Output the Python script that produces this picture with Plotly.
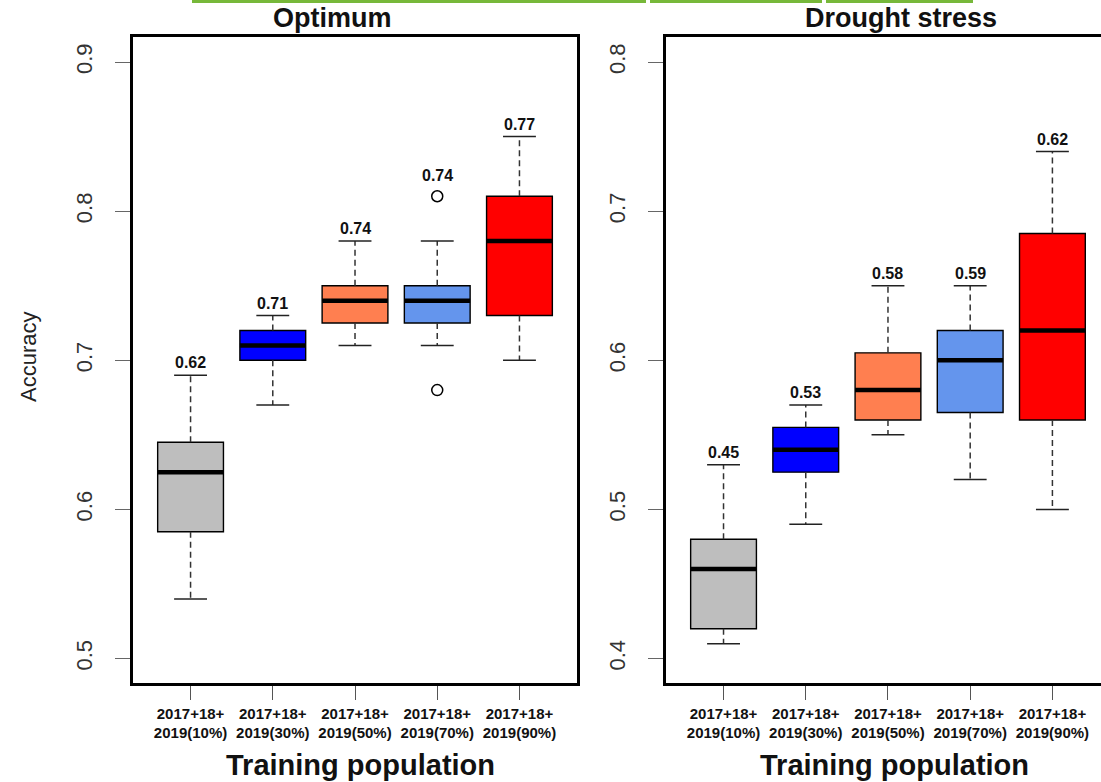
import plotly.graph_objects as go

# Training-population scenarios (shared by both panels)
categories = ["2017+18+<br>2019(10%)", "2017+18+<br>2019(30%)", "2017+18+<br>2019(50%)",
              "2017+18+<br>2019(70%)", "2017+18+<br>2019(90%)"]
positions = [1, 2, 3, 4, 5]
box_colors = ["#BEBEBE", "#0000FF", "#FF7F50", "#6495ED", "#FF0000"]

# Optimum environment: five-number summaries of prediction accuracy
opt_low = [0.540, 0.670, 0.710, 0.710, 0.700]
opt_q1 = [0.585, 0.700, 0.725, 0.725, 0.730]
opt_median = [0.625, 0.710, 0.740, 0.740, 0.780]
opt_q3 = [0.645, 0.720, 0.750, 0.750, 0.810]
opt_high = [0.690, 0.730, 0.780, 0.780, 0.850]
opt_mean = [0.62, 0.71, 0.74, 0.74, 0.77]
opt_outliers = [[], [], [], [0.81, 0.68], []]

# Drought-stress environment
dro_low = [0.410, 0.490, 0.550, 0.520, 0.500]
dro_q1 = [0.420, 0.525, 0.560, 0.565, 0.560]
dro_median = [0.460, 0.540, 0.580, 0.600, 0.620]
dro_q3 = [0.480, 0.555, 0.605, 0.620, 0.685]
dro_high = [0.530, 0.570, 0.650, 0.650, 0.740]
dro_mean = [0.45, 0.53, 0.58, 0.59, 0.62]
dro_outliers = [[], [], [], [], []]

opt_ticks = [0.5, 0.6, 0.7, 0.8, 0.9]
dro_ticks = [0.4, 0.5, 0.6, 0.7, 0.8]

FONT = "Liberation Sans, Arial, Helvetica, sans-serif"
BOX_W = 0.8
CAP_W = 0.4

fig = go.Figure()


def add_panel(xa, ya, low, q1, med, q3, high, mean, outliers):
    xref = "x" if xa == "x1" else xa
    yref = "y" if ya == "y1" else ya
    # box bodies
    for p, c, a, m, b in zip(positions, box_colors, q1, med, q3):
        fig.add_trace(go.Box(
            x=[p], q1=[a], median=[m], q3=[b], lowerfence=[a], upperfence=[b],
            width=BOX_W, whiskerwidth=0, fillcolor=c, boxpoints=False,
            line=dict(color="#000000", width=1.4),
            xaxis=xref, yaxis=yref, showlegend=False, hoverinfo="skip"))
    # dashed whiskers
    wx, wy = [], []
    for p, lo, a, b, hi in zip(positions, low, q1, q3, high):
        wx += [p, p, None, p, p, None]
        wy += [b, hi, None, a, lo, None]
    fig.add_trace(go.Scatter(x=wx, y=wy, mode="lines", xaxis=xref, yaxis=yref,
                             line=dict(color="#333333", width=1.5, dash="6px,4px"),
                             showlegend=False, hoverinfo="skip"))
    # whisker caps
    cx, cy = [], []
    for p, lo, hi in zip(positions, low, high):
        cx += [p - CAP_W / 2, p + CAP_W / 2, None, p - CAP_W / 2, p + CAP_W / 2, None]
        cy += [hi, hi, None, lo, lo, None]
    fig.add_trace(go.Scatter(x=cx, y=cy, mode="lines", xaxis=xref, yaxis=yref,
                             line=dict(color="#222222", width=1.5),
                             showlegend=False, hoverinfo="skip"))
    # thick medians
    mx, my = [], []
    for p, m in zip(positions, med):
        mx += [p - BOX_W / 2, p + BOX_W / 2, None]
        my += [m, m, None]
    fig.add_trace(go.Scatter(x=mx, y=my, mode="lines", xaxis=xref, yaxis=yref,
                             line=dict(color="#000000", width=4.5),
                             showlegend=False, hoverinfo="skip"))
    # outliers
    ox, oy = [], []
    for p, pts in zip(positions, outliers):
        for v in pts:
            ox.append(p)
            oy.append(v)
    if ox:
        fig.add_trace(go.Scatter(x=ox, y=oy, mode="markers", xaxis=xref, yaxis=yref,
                                 marker=dict(symbol="circle-open", size=11,
                                             color="#000000", line=dict(width=1.5)),
                                 showlegend=False, hoverinfo="skip"))
    # mean labels above the top of each box
    for p, hi, pts, v in zip(positions, high, outliers, mean):
        top = max([hi] + list(pts))
        shift = 10 if pts and max(pts) > hi else 2
        fig.add_annotation(x=p, y=top, xref=xref, yref=yref, text=f"{v:.2f}",
                           showarrow=False, yanchor="bottom", yshift=shift,
                           font=dict(family=FONT, size=16, color="#111111", weight="bold"))


add_panel("x1", "y1", opt_low, opt_q1, opt_median, opt_q3, opt_high, opt_mean, opt_outliers)
add_panel("x2", "y2", dro_low, dro_q1, dro_median, dro_q3, dro_high, dro_mean, dro_outliers)

xaxis_common = dict(
    tickmode="array", tickvals=positions, ticktext=categories,
    ticks="outside", ticklen=14, tickwidth=1.3, tickcolor="#555555",
    tickfont=dict(family=FONT, size=15, color="#111111", weight="bold"),
    showline=True, linecolor="#000000", linewidth=2.5, mirror=True,
    showgrid=False, zeroline=False, ticklabelstandoff=1,
)
yaxis_common = dict(
    ticks="outside", ticklen=15, tickwidth=1.3, tickcolor="#666666",
    tickangle=-90, tickfont=dict(family=FONT, size=22, color="#333333"),
    showline=True, linecolor="#000000", linewidth=2.5,
    showgrid=False, zeroline=False, ticklabelstandoff=14,
)

fig.update_layout(
    width=1101, height=782,
    margin=dict(l=133, r=0, t=37, b=99),
    paper_bgcolor="#FFFFFF", plot_bgcolor="#FFFFFF",
    boxmode="overlay",
    font=dict(family=FONT),
    xaxis=dict(domain=[0, 0.4587], range=[0.3, 5.7], **xaxis_common),
    xaxis2=dict(domain=[0.5506, 1.0], range=[0.3, 5.591], anchor="y2", **xaxis_common),
    yaxis=dict(range=[0.4836, 0.9168], tickvals=opt_ticks,
               ticktext=[f"{t:.1f}" for t in opt_ticks], mirror=True, **yaxis_common),
    yaxis2=dict(range=[0.3836, 0.8168], tickvals=dro_ticks, anchor="x2",
                ticktext=[f"{t:.1f}" for t in dro_ticks], mirror=False, **yaxis_common),
)

# panel titles and axis titles
for txt, xp in [("Optimum", 0.2066), ("Drought stress", 0.7934)]:
    fig.add_annotation(x=xp, y=1.0294, xref="paper", yref="paper", text=txt,
                       showarrow=False, xanchor="center", yanchor="middle",
                       font=dict(family=FONT, size=27, color="#111111", weight="bold"))
for xp in [0.2355, 0.7862]:
    fig.add_annotation(x=xp, y=-0.127, xref="paper", yref="paper", text="Training population",
                       showarrow=False, xanchor="center", yanchor="middle",
                       font=dict(family=FONT, size=29, color="#111111", weight="bold"))
fig.add_annotation(x=-0.1085, y=0.5046, xref="paper", yref="paper", text="Accuracy",
                   textangle=-90, showarrow=False, xanchor="center", yanchor="middle",
                   font=dict(family=FONT, size=22, color="#222222"))

# green rule along the top edge of the figure
for x0, x1 in [(192, 646), (650, 822), (826, 973)]:
    fig.add_shape(type="line", xref="paper", yref="paper",
                  x0=(x0 - 133) / 968, x1=(x1 - 133) / 968,
                  y0=1 + 35.5 / 646, y1=1 + 35.5 / 646,
                  line=dict(color="#77B83A", width=3))

fig.write_html("out.html")
